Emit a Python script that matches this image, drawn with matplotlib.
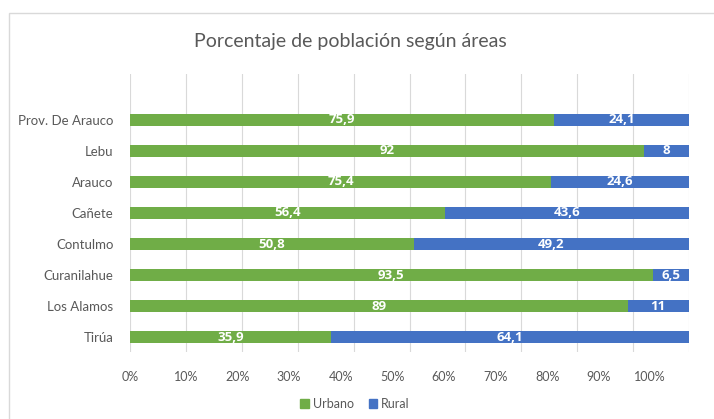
import matplotlib
matplotlib.use("Agg")
import matplotlib.pyplot as plt
from matplotlib.patches import Patch, Rectangle

categories = ["Prov. De Arauco", "Lebu", "Arauco", "Cañete", "Contulmo",
              "Curanilahue", "Los Alamos", "Tirúa"]
urbano = [75.9, 92, 75.4, 56.4, 50.8, 93.5, 89, 35.9]
rural = [24.1, 8, 24.6, 43.6, 49.2, 6.5, 11, 64.1]
tick_labels = ["0%", "10%", "20%", "30%", "40%", "50%", "60%", "70%", "80%", "90%", "100%"]

GREEN = "#70AD47"
BLUE = "#4472C4"
GRAY = "#595959"

plt.rcParams['font.family'] = ['Lato', 'DejaVu Sans']

W, H = 714, 419
fig = plt.figure(figsize=(W / 100, H / 100), dpi=100)
fig.patch.set_facecolor("white")

# chart border
fig.patches.append(Rectangle((9 / W, -0.2), 1.2, 1 - 13 / H + 0.2,
                             transform=fig.transFigure, fill=False,
                             edgecolor="#d9d9d9", linewidth=1.0))

ax = fig.add_axes([130 / W, 1 - 352 / H, (689 - 130) / W, (352 - 74) / H])
y = list(range(len(categories)))
b1 = ax.barh(y, urbano, height=0.4, color=GREEN, label="Urbano")
b2 = ax.barh(y, rural, left=urbano, height=0.4, color=BLUE, label="Rural")

fmt = lambda v: ("%g" % v).replace(".", ",")
lab_kw = dict(label_type="center", color="white", fontsize=9.5,
              fontweight="bold", family=["Open Sans", "DejaVu Sans"])
ax.bar_label(b1, labels=[fmt(v) for v in urbano], **lab_kw)
ax.bar_label(b2, labels=[fmt(v) for v in rural], **lab_kw)

ax.set_xlim(0, 100)
ax.set_ylim(7.48, -1.48)
ax.set_yticks(y)
ax.set_yticklabels(categories, fontsize=9.5, color=GRAY)
ax.tick_params(axis="y", length=0, pad=12)

# gridlines (major) and labels (minor, as drawn in the reference)
ax.xaxis.remove_overlapping_locs = False
ax.set_xticks([i * 10 for i in range(11)])
ax.set_xticklabels([])
label_pos = [0] + [10 + (i - 1) * 9.23 for i in range(1, 11)]
ax.set_xticks(label_pos, minor=True)
ax.set_xticklabels(tick_labels, minor=True, fontsize=9, color=GRAY)
ax.tick_params(axis="x", which="both", length=0, pad=14)
ax.grid(axis="x", which="major", color="#d9d9d9", linewidth=0.8)
ax.grid(axis="x", which="minor", visible=False)
ax.set_axisbelow(True)
for s in ax.spines.values():
    s.set_visible(False)

fig.text(350 / W, 1 - 42 / H, "Porcentaje de población según áreas",
         ha="center", va="center", fontsize=14, color=GRAY)

handles = [Patch(color=GREEN, label="Urbano"), Patch(color=BLUE, label="Rural")]
fig.legend(handles=handles, loc="center", bbox_to_anchor=(355 / W, 1 - 404 / H),
           ncol=2, frameon=False, fontsize=9, handlelength=0.7, handleheight=0.7,
           handletextpad=0.3, columnspacing=1.2, labelcolor=GRAY)

fig.savefig("out.png", dpi=100, facecolor="white")
